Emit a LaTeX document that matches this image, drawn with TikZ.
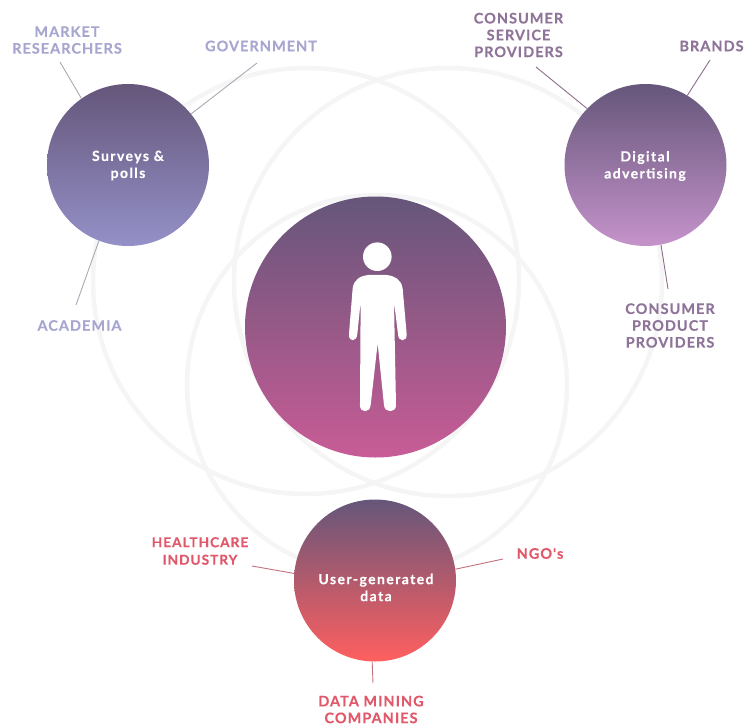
\documentclass[tikz,border=0pt]{standalone}
\usepackage{fontspec}
\newfontfamily\labfont[LetterSpace=7,BoldFeatures={FakeBold=0.3}]{Lato}
\newfontfamily\hubfont[LetterSpace=10,BoldFeatures={FakeBold=0.3}]{Lato}
\definecolor{ringc}{HTML}{F6F5F6}
\definecolor{topc}{HTML}{65567A}
\definecolor{surveybot}{HTML}{9491C8}
\definecolor{digitalbot}{HTML}{C593CB}
\definecolor{userbot}{HTML}{FF5F5F}
\definecolor{midbot}{HTML}{C85C96}
\definecolor{leftc}{HTML}{A7A6D0}
\definecolor{rightc}{HTML}{8F7499}
\definecolor{lowc}{HTML}{E0586A}
\definecolor{leftl}{HTML}{A9A9B4}
\definecolor{rightl}{HTML}{8D6C8A}
\definecolor{lowl}{HTML}{C4707E}
\tikzset{
  ring/.style={circle,draw=ringc,line width=4.5pt,minimum size=#1,inner sep=0pt},
  hub/.style={circle,inner sep=0pt,minimum size=162pt},
  hubtext/.style={text=white,align=center,inner sep=0pt,font=\hubfont\bfseries\fontsize{14}{17}\selectfont},
  lab/.style={align=center,font=\labfont\bfseries\fontsize{14.5}{16.8}\selectfont,inner sep=0pt},
  leftlab/.style={lab,text=leftc},
  rightlab/.style={lab,text=rightc},
  lowlab/.style={lab,text=lowc},
  leftcon/.style={draw=leftl,line width=0.9pt},
  rightcon/.style={draw=rightl,line width=0.9pt},
  lowcon/.style={draw=lowl,line width=0.9pt},
}
\begin{document}
\begin{tikzpicture}[x=1pt,y=-1pt]
\useasboundingbox (0,0) rectangle (745,726);
% rings
\node[ring=426pt] (r1) at (306,281) {};
\node[ring=428pt] (r2) at (448,282) {};
\node[ring=380pt] (r3) at (377,385) {};
% hubs
\node[hub,top color=topc,bottom color=surveybot] (survey) at (128,165) {};
\node[hub,top color=topc,bottom color=digitalbot] (digital) at (645.5,165) {};
\node[hub,top color=topc,bottom color=userbot] (user) at (375,580.5) {};
\node[circle,inner sep=0pt,minimum size=261pt,top color=topc,bottom color=midbot] (centre) at (375.5,327) {};
% hub texts
\node[hubtext] (surveyt) at (128,165.5) {Surveys \&\\polls};
\node[hubtext] (digitalt) at (645,166) {Digital\\advertising};
\node[hubtext] (usert) at (376,587.5) {User-generated\\data};
% person
\node[circle,fill=white,inner sep=0pt,minimum size=28.6pt] (head) at (377.3,256.7) {};
\begin{scope}[shift={(240,190)},scale=0.3333]
\fill[white]
  (385,255) -- (440,255)
  .. controls (465,258) and (483,268) .. (488,295)
  -- (500,432)
  .. controls (502,457) and (474,457) .. (474,432)
  -- (462,335) -- (468,645)
  .. controls (469,670) and (433,670) .. (432,645)
  -- (413,460) -- (392,645)
  .. controls (391,670) and (359,670) .. (360,645)
  -- (362,335) -- (352,432)
  .. controls (350,457) and (325,457) .. (327,432)
  -- (338,295)
  .. controls (342,268) and (360,258) .. (385,255) -- cycle;
\end{scope}
% labels
\node[leftlab] (market) at (67,40) {MARKET\\RESEARCHERS};
\node[leftlab] (gov) at (261,46) {GOVERNMENT};
\node[leftlab] (acad) at (79.5,325.5) {ACADEMIA};
\node[rightlab] (service) at (518.5,35) {CONSUMER\\SERVICE\\PROVIDERS};
\node[rightlab] (brands) at (711.5,46) {BRANDS};
\node[rightlab] (product) at (670,325.5) {CONSUMER\\PRODUCT\\PROVIDERS};
\node[lowlab,font=\labfont\bfseries\fontsize{13.7}{17.5}\selectfont] (health) at (200,551) {HEALTHCARE\\INDUSTRY};
\node[lowlab] (ngo) at (540,553.5) {NGO's};
\node[lowlab] (mining) at (371,709.5) {DATA MINING\\COMPANIES};
% connector free ends
\coordinate (cm) at (60,62);
\coordinate (cg) at (257,63);
\coordinate (ca) at (76,305);
\coordinate (cs) at (536,67);
\coordinate (cb) at (710,60);
\coordinate (cp) at (668,289);
\coordinate (ch) at (252,566);
\coordinate (cn) at (503,559);
\coordinate (cd) at (373,683);
% connectors
\draw[leftcon] (cm) -- (survey.125);
\draw[leftcon] (cg) -- (survey.39);
\draw[leftcon] (ca) -- (survey.249);
\draw[rightcon] (cs) -- (digital.136);
\draw[rightcon] (cb) -- (digital.59);
\draw[rightcon] (cp) -- (digital.-79);
\draw[lowcon] (ch) -- (user.175);
\draw[lowcon] (cn) -- (user.8);
\draw[lowcon] (cd) -- (user.-92);
\end{tikzpicture}
\end{document}
